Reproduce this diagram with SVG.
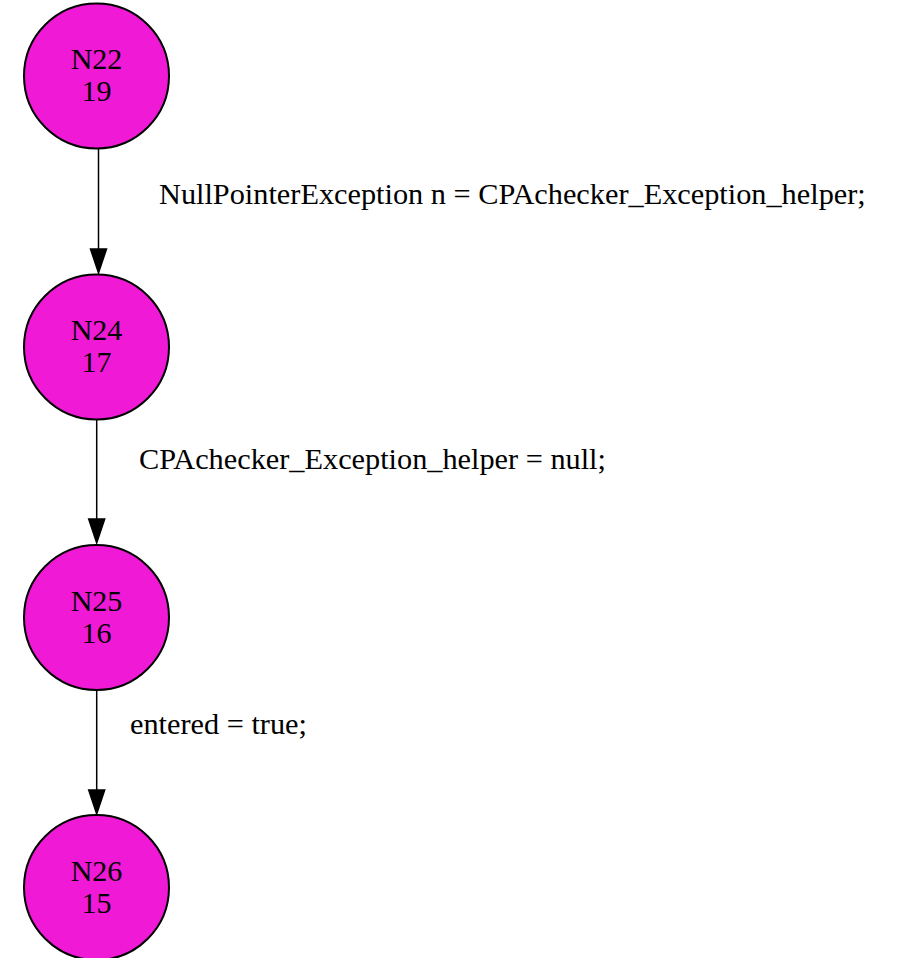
<svg xmlns="http://www.w3.org/2000/svg" width="897" height="958" viewBox="0 0 897 958">
<defs>
<style>
.node circle{fill:#ef19d6;stroke:#000;stroke-width:2}
.node text{font-family:"Liberation Serif","Times New Roman",serif;font-size:30px;text-anchor:middle;fill:#000}
.edge line{stroke:#000;stroke-width:1.5}
.edge polygon{fill:#000;stroke:#000;stroke-width:1.5}
.lbl{font-family:"Liberation Serif","Times New Roman",serif;font-size:30.3px;fill:#000}
</style>
</defs>
<rect width="897" height="958" fill="#fff"/>
<g id="edges">
<g class="edge" id="e1">
<line x1="98.5" y1="148" x2="98.5" y2="249"/>
<polygon points="90.5,249 106.5,249 98.5,273"/>
<text class="lbl" x="159" y="204">NullPointerException n = CPAchecker_Exception_helper;</text>
</g>
<g class="edge" id="e2">
<line x1="96.7" y1="419" x2="96.7" y2="519"/>
<polygon points="88.7,519 104.7,519 96.7,543"/>
<text class="lbl" x="139" y="469">CPAchecker_Exception_helper = null;</text>
</g>
<g class="edge" id="e3">
<line x1="96.7" y1="690" x2="96.7" y2="790"/>
<polygon points="88.7,790 104.7,790 96.7,814"/>
<text class="lbl" x="130" y="734">entered = true;</text>
</g>
</g>
<g class="node" id="N22">
<circle cx="96.5" cy="76" r="72.5"/>
<text x="96.5" y="69">N22</text>
<text x="96.5" y="101">19</text>
</g>
<g class="node" id="N24">
<circle cx="96.5" cy="347" r="72.5"/>
<text x="96.5" y="340">N24</text>
<text x="96.5" y="372">17</text>
</g>
<g class="node" id="N25">
<circle cx="96.5" cy="617.5" r="72.5"/>
<text x="96.5" y="610.5">N25</text>
<text x="96.5" y="642.5">16</text>
</g>
<g class="node" id="N26">
<circle cx="96.5" cy="887.5" r="72.5"/>
<text x="96.5" y="880.5">N26</text>
<text x="96.5" y="912.5">15</text>
</g>
</svg>
